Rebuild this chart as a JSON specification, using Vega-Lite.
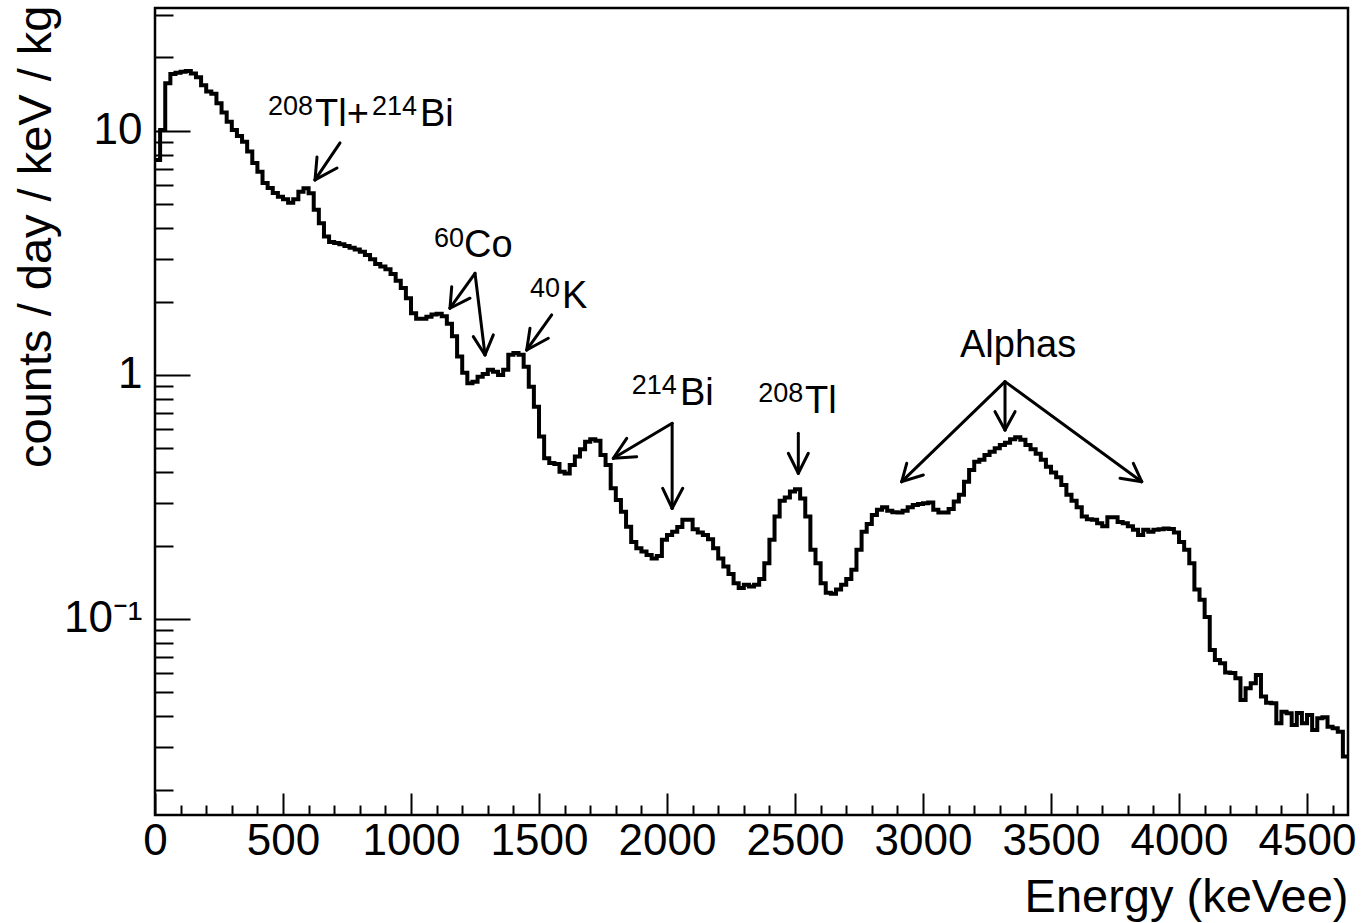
{
  "$schema": "https://vega.github.io/schema/vega-lite/v6.json",
  "width": 1193,
  "height": 807,
  "autosize": "none",
  "padding": {"left": 155, "top": 8, "right": 14, "bottom": 108},
  "background": "white",
  "config": {
    "font": "Liberation Sans",
    "view": {"stroke": "black", "strokeWidth": 2.5},
    "axis": {"grid": false, "domain": false, "tickColor": "black", "labelColor": "black", "titleColor": "black", "tickWidth": 2}
  },
  "datasets": {
    "hist": [
      {"e":0,"v":7.60},{"e":20,"v":10.1},{"e":40,"v":15.7},{"e":60,"v":17.1},{"e":80,"v":17.3},{"e":100,"v":17.5},{"e":120,"v":17.6},{"e":140,"v":17.2},{"e":160,"v":16.6},{"e":180,"v":15.4},
      {"e":200,"v":14.5},{"e":220,"v":14.2},{"e":240,"v":13.0},{"e":260,"v":11.9},{"e":280,"v":10.9},{"e":300,"v":10.1},{"e":320,"v":9.54},{"e":340,"v":9.04},{"e":360,"v":8.23},{"e":380,"v":7.39},
      {"e":400,"v":6.81},{"e":420,"v":6.12},{"e":440,"v":5.84},{"e":460,"v":5.57},{"e":480,"v":5.38},{"e":500,"v":5.25},{"e":520,"v":5.08},{"e":540,"v":5.25},{"e":560,"v":5.64},{"e":580,"v":5.82},
      {"e":600,"v":5.55},{"e":620,"v":4.75},{"e":640,"v":4.19},{"e":660,"v":3.69},{"e":680,"v":3.51},{"e":700,"v":3.47},{"e":720,"v":3.43},{"e":740,"v":3.38},{"e":760,"v":3.32},{"e":780,"v":3.27},
      {"e":800,"v":3.20},{"e":820,"v":3.10},{"e":840,"v":2.98},{"e":860,"v":2.85},{"e":880,"v":2.78},{"e":900,"v":2.71},{"e":920,"v":2.59},{"e":940,"v":2.43},{"e":960,"v":2.27},{"e":980,"v":2.06},
      {"e":1000,"v":1.79},{"e":1020,"v":1.70},{"e":1040,"v":1.70},{"e":1060,"v":1.73},{"e":1080,"v":1.77},{"e":1100,"v":1.78},{"e":1120,"v":1.74},{"e":1140,"v":1.62},{"e":1160,"v":1.44},{"e":1180,"v":1.19},
      {"e":1200,"v":1.02},{"e":1220,"v":0.925},{"e":1240,"v":0.939},{"e":1260,"v":0.984},{"e":1280,"v":1.01},{"e":1300,"v":1.05},{"e":1320,"v":1.03},{"e":1340,"v":1.00},{"e":1360,"v":1.05},{"e":1380,"v":1.21},
      {"e":1400,"v":1.23},{"e":1420,"v":1.21},{"e":1440,"v":1.08},{"e":1460,"v":0.895},{"e":1480,"v":0.741},{"e":1500,"v":0.559},{"e":1520,"v":0.456},{"e":1540,"v":0.436},{"e":1560,"v":0.432},{"e":1580,"v":0.401},
      {"e":1600,"v":0.395},{"e":1620,"v":0.428},{"e":1640,"v":0.463},{"e":1660,"v":0.496},{"e":1680,"v":0.533},{"e":1700,"v":0.545},{"e":1720,"v":0.538},{"e":1740,"v":0.470},{"e":1760,"v":0.428},{"e":1780,"v":0.343},
      {"e":1800,"v":0.307},{"e":1820,"v":0.275},{"e":1840,"v":0.239},{"e":1860,"v":0.207},{"e":1880,"v":0.195},{"e":1900,"v":0.189},{"e":1920,"v":0.183},{"e":1940,"v":0.177},{"e":1960,"v":0.181},{"e":1980,"v":0.211},
      {"e":2000,"v":0.221},{"e":2020,"v":0.228},{"e":2040,"v":0.238},{"e":2060,"v":0.255},{"e":2080,"v":0.255},{"e":2100,"v":0.233},{"e":2120,"v":0.226},{"e":2140,"v":0.221},{"e":2160,"v":0.212},{"e":2180,"v":0.195},
      {"e":2200,"v":0.177},{"e":2220,"v":0.164},{"e":2240,"v":0.153},{"e":2260,"v":0.140},{"e":2280,"v":0.134},{"e":2300,"v":0.138},{"e":2320,"v":0.136},{"e":2340,"v":0.138},{"e":2360,"v":0.146},{"e":2380,"v":0.169},
      {"e":2400,"v":0.211},{"e":2420,"v":0.263},{"e":2440,"v":0.305},{"e":2460,"v":0.315},{"e":2480,"v":0.333},{"e":2500,"v":0.340},{"e":2520,"v":0.312},{"e":2540,"v":0.263},{"e":2560,"v":0.192},{"e":2580,"v":0.169},
      {"e":2600,"v":0.140},{"e":2620,"v":0.128},{"e":2640,"v":0.127},{"e":2660,"v":0.132},{"e":2680,"v":0.138},{"e":2700,"v":0.146},{"e":2720,"v":0.159},{"e":2740,"v":0.192},{"e":2760,"v":0.228},{"e":2780,"v":0.245},
      {"e":2800,"v":0.267},{"e":2820,"v":0.280},{"e":2840,"v":0.287},{"e":2860,"v":0.278},{"e":2880,"v":0.274},{"e":2900,"v":0.273},{"e":2920,"v":0.278},{"e":2940,"v":0.287},{"e":2960,"v":0.293},{"e":2980,"v":0.296},
      {"e":3000,"v":0.298},{"e":3020,"v":0.300},{"e":3040,"v":0.280},{"e":3060,"v":0.273},{"e":3080,"v":0.273},{"e":3100,"v":0.282},{"e":3120,"v":0.303},{"e":3140,"v":0.323},{"e":3160,"v":0.365},{"e":3180,"v":0.408},
      {"e":3200,"v":0.441},{"e":3220,"v":0.449},{"e":3240,"v":0.470},{"e":3260,"v":0.485},{"e":3280,"v":0.501},{"e":3300,"v":0.517},{"e":3320,"v":0.528},{"e":3340,"v":0.545},{"e":3360,"v":0.555},{"e":3380,"v":0.542},
      {"e":3400,"v":0.517},{"e":3420,"v":0.496},{"e":3440,"v":0.475},{"e":3460,"v":0.449},{"e":3480,"v":0.421},{"e":3500,"v":0.398},{"e":3520,"v":0.381},{"e":3540,"v":0.354},{"e":3560,"v":0.323},{"e":3580,"v":0.305},
      {"e":3600,"v":0.287},{"e":3620,"v":0.263},{"e":3640,"v":0.256},{"e":3660,"v":0.255},{"e":3680,"v":0.247},{"e":3700,"v":0.240},{"e":3720,"v":0.261},{"e":3740,"v":0.261},{"e":3760,"v":0.250},{"e":3780,"v":0.247},
      {"e":3800,"v":0.240},{"e":3820,"v":0.232},{"e":3840,"v":0.221},{"e":3860,"v":0.232},{"e":3880,"v":0.228},{"e":3900,"v":0.232},{"e":3920,"v":0.233},{"e":3940,"v":0.235},{"e":3960,"v":0.234},{"e":3980,"v":0.226},
      {"e":4000,"v":0.207},{"e":4020,"v":0.192},{"e":4040,"v":0.169},{"e":4060,"v":0.132},{"e":4080,"v":0.120},{"e":4100,"v":0.102},{"e":4120,"v":0.0746},{"e":4140,"v":0.0679},{"e":4160,"v":0.0658},{"e":4180,"v":0.0603},
      {"e":4200,"v":0.0600},{"e":4220,"v":0.0571},{"e":4240,"v":0.0466},{"e":4260,"v":0.0520},{"e":4280,"v":0.0545},{"e":4300,"v":0.0590},{"e":4320,"v":0.0481},{"e":4340,"v":0.0454},{"e":4360,"v":0.0452},{"e":4380,"v":0.0374},
      {"e":4400,"v":0.0417},{"e":4420,"v":0.0411},{"e":4440,"v":0.0368},{"e":4460,"v":0.0412},{"e":4480,"v":0.0374},{"e":4500,"v":0.0404},{"e":4520,"v":0.0351},{"e":4540,"v":0.0392},{"e":4560,"v":0.0396},{"e":4580,"v":0.0362},
      {"e":4600,"v":0.0357},{"e":4620,"v":0.0345},{"e":4640,"v":0.0273},{"e":4660,"v":0.0273}
    ],
    "arrows": [
      {"x":722.7,"y":8.93,"x2":625,"y2":6.30},
      {"x":625,"y":6.30,"x2":632.8,"y2":7.82},
      {"x":625,"y":6.30,"x2":710.9,"y2":7.05},
      {"x":1250,"y":2.61,"x2":1152.3,"y2":1.877},
      {"x":1152.3,"y":1.877,"x2":1159,"y2":2.30},
      {"x":1152.3,"y":1.877,"x2":1230.5,"y2":2.063},
      {"x":1250,"y":2.61,"x2":1289,"y2":1.208},
      {"x":1289,"y":1.208,"x2":1243.4,"y2":1.436},
      {"x":1289,"y":1.208,"x2":1321.5,"y2":1.459},
      {"x":1549.6,"y":1.762,"x2":1452,"y2":1.266},
      {"x":1452,"y":1.266,"x2":1464.8,"y2":1.554},
      {"x":1452,"y":1.266,"x2":1536.3,"y2":1.414},
      {"x":2020,"y":0.634,"x2":1790.2,"y2":0.4556},
      {"x":1790.2,"y":0.4556,"x2":1842.6,"y2":0.550},
      {"x":1790.2,"y":0.4556,"x2":1881.6,"y2":0.4626},
      {"x":2020,"y":0.634,"x2":2020,"y2":0.2843},
      {"x":2020,"y":0.2843,"x2":1983.2,"y2":0.3432},
      {"x":2020,"y":0.2843,"x2":2061.3,"y2":0.3432},
      {"x":2512.9,"y":0.5768,"x2":2512.9,"y2":0.3955},
      {"x":2512.9,"y":0.3955,"x2":2473.8,"y2":0.4776},
      {"x":2512.9,"y":0.3955,"x2":2552,"y2":0.4776},
      {"x":3320.3,"y":0.9387,"x2":2916.8,"y2":0.3653},
      {"x":2916.8,"y":0.3653,"x2":2936.3,"y2":0.4346},
      {"x":2916.8,"y":0.3653,"x2":3001.2,"y2":0.3892},
      {"x":3320.3,"y":0.9387,"x2":3320.3,"y2":0.5952},
      {"x":3320.3,"y":0.5952,"x2":3281.25,"y2":0.7071},
      {"x":3320.3,"y":0.5952,"x2":3359.4,"y2":0.7071},
      {"x":3320.3,"y":0.9387,"x2":3854.3,"y2":0.3653},
      {"x":3854.3,"y":0.3653,"x2":3769.5,"y2":0.3773},
      {"x":3854.3,"y":0.3653,"x2":3821.5,"y2":0.4346}
    ],
    "notes": [
      {"x":441.4,"y":11.63,"t":"208","k":"sup"},
      {"x":625,"y":10.48,"t":"Tl+","k":"main"},
      {"x":847.7,"y":11.63,"t":"214","k":"sup"},
      {"x":1035.2,"y":10.48,"t":"Bi","k":"main"},
      {"x":1089.8,"y":3.347,"t":"60","k":"sup"},
      {"x":1207,"y":3.045,"t":"Co","k":"main"},
      {"x":1464.8,"y":2.088,"t":"40","k":"sup"},
      {"x":1589.8,"y":1.873,"t":"K","k":"main"},
      {"x":1862,"y":0.836,"t":"214","k":"sup"},
      {"x":2050.8,"y":0.7535,"t":"Bi","k":"main"},
      {"x":2356.6,"y":0.775,"t":"208","k":"sup"},
      {"x":2539,"y":0.6966,"t":"Tl","k":"main"},
      {"x":3144.5,"y":1.189,"t":"Alphas","k":"main"}
    ]
  },
  "resolve": {"axis": {"x": "independent", "y": "independent"}},
  "layer": [
    {
      "data": {"name": "hist"},
      "mark": {"type": "line", "interpolate": "step-after", "color": "black", "strokeWidth": 4},
      "encoding": {
        "x": {
          "field": "e", "type": "quantitative",
          "scale": {"domain": [0, 4660], "nice": false, "zero": false},
          "axis": {
            "orient": "bottom", "values": [0, 500, 1000, 1500, 2000, 2500, 3000, 3500, 4000, 4500],
            "tickSize": -22, "labelPadding": 26, "labelFontSize": 44, "labelFlush": false, "format": "d",
            "title": "Energy (keVee)", "titleFontSize": 47, "titleFontWeight": "normal",
            "titleAnchor": "end", "titleAlign": "right", "titleBaseline": "alphabetic", "titleX": 1193, "titleY": 96
          }
        },
        "y": {
          "field": "v", "type": "quantitative",
          "scale": {"type": "log", "domain": [0.01573, 31.9], "nice": false},
          "axis": {
            "orient": "left", "values": [0.1, 1, 10],
            "tickSize": -35, "labelPadding": 48, "labelFontSize": 44,
            "labelExpr": "datum.value < 0.5 ? '10⁻¹' : datum.value < 5 ? '1' : '10'",
            "title": "counts / day / keV / kg", "titleFontSize": 47, "titleFontWeight": "normal",
            "titleAngle": -90, "titleAnchor": "end", "titleAlign": "right", "titleBaseline": "alphabetic",
            "titleX": -105, "titleY": -3
          }
        }
      }
    },
    {
      "data": {"name": "arrows"},
      "mark": {"type": "rule", "color": "black", "strokeWidth": 3, "strokeCap": "round"},
      "encoding": {
        "x": {
          "field": "x", "type": "quantitative",
          "scale": {"domain": [0, 4660], "nice": false, "zero": false},
          "axis": {
            "orient": "bottom",
            "values": [100,200,300,400,600,700,800,900,1100,1200,1300,1400,1600,1700,1800,1900,2100,2200,2300,2400,2600,2700,2800,2900,3100,3200,3300,3400,3600,3700,3800,3900,4100,4200,4300,4400,4600],
            "tickSize": -10, "labels": false, "title": null
          }
        },
        "y": {
          "field": "y", "type": "quantitative",
          "scale": {"type": "log", "domain": [0.01573, 31.9], "nice": false},
          "axis": {
            "orient": "left",
            "values": [0.02,0.03,0.04,0.05,0.06,0.07,0.08,0.09,0.2,0.3,0.4,0.5,0.6,0.7,0.8,0.9,2,3,4,5,6,7,8,9,20,30],
            "tickSize": -18, "labels": false, "title": null
          }
        },
        "x2": {"field": "x2"},
        "y2": {"field": "y2"}
      }
    },
    {
      "data": {"name": "notes"},
      "transform": [{"filter": "datum.k == 'main'"}],
      "mark": {"type": "text", "align": "left", "baseline": "alphabetic", "fontSize": 38, "color": "black"},
      "encoding": {
        "x": {"field": "x", "type": "quantitative", "scale": {"domain": [0, 4660], "nice": false, "zero": false}, "axis": null},
        "y": {"field": "y", "type": "quantitative", "scale": {"type": "log", "domain": [0.01573, 31.9], "nice": false}, "axis": null},
        "text": {"field": "t"}
      }
    },
    {
      "data": {"name": "notes"},
      "transform": [{"filter": "datum.k == 'sup'"}],
      "mark": {"type": "text", "align": "left", "baseline": "alphabetic", "fontSize": 27, "color": "black"},
      "encoding": {
        "x": {"field": "x", "type": "quantitative", "scale": {"domain": [0, 4660], "nice": false, "zero": false}, "axis": null},
        "y": {"field": "y", "type": "quantitative", "scale": {"type": "log", "domain": [0.01573, 31.9], "nice": false}, "axis": null},
        "text": {"field": "t"}
      }
    }
  ]
}
